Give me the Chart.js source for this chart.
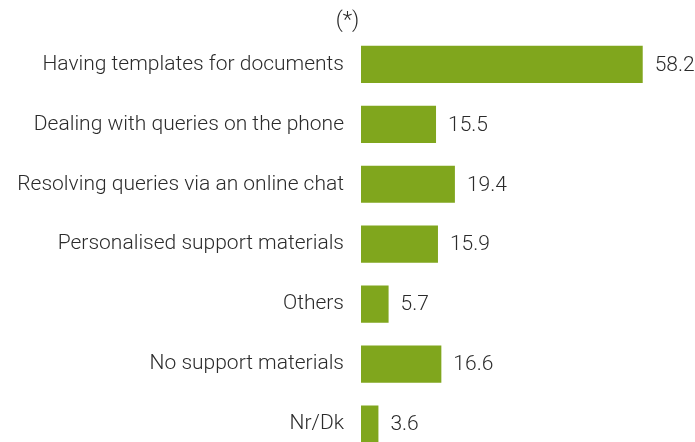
<!DOCTYPE html>
<html>
<head>
<meta charset="utf-8">
<script src="https://cdn.jsdelivr.net/npm/chart.js@4"></script>
<style>
  html, body { margin: 0; padding: 0; background: #fff; overflow: hidden; height: 442px; }
  /* taller than the window: the last row is cut at the bottom, as in the reference */
  #wrap { width: 695px; height: 454px; }
</style>
</head>
<body>
<div id="wrap"><canvas id="chart"></canvas></div>
<script>
// Data
const categories = [
  "Having templates for documents",
  "Dealing with queries on the phone",
  "Resolving queries via an online chat",
  "Personalised support materials",
  "Others",
  "No support materials",
  "Nr/Dk"
];
const values = [58.2, 15.5, 19.4, 15.9, 5.7, 16.6, 3.6];
const titleText = "(*)";

const textColor = "#2b2b2b";
const barColor = "#80a61d";
const fontFamily = "Roboto, 'Noto Sans', sans-serif";

// value labels at the end of each bar
const valueLabels = {
  id: "valueLabels",
  afterDatasetsDraw(chart) {
    const ctx = chart.ctx;
    const meta = chart.getDatasetMeta(0);
    ctx.save();
    ctx.font = "300 21px " + fontFamily;
    ctx.fillStyle = textColor;
    ctx.textAlign = "left";
    ctx.textBaseline = "middle";
    meta.data.forEach((bar, i) => {
      ctx.fillText(values[i].toFixed(1), bar.x + 12, bar.y + 1);
    });
    ctx.restore();
  }
};

new Chart(document.getElementById("chart"), {
  type: "bar",
  data: {
    labels: categories,
    datasets: [{
      data: values,
      backgroundColor: barColor,
      barPercentage: 0.62,
      categoryPercentage: 1
    }]
  },
  options: {
    indexAxis: "y",
    responsive: true,
    maintainAspectRatio: false,
    animation: false,
    layout: { padding: 0 },
    plugins: {
      legend: { display: false },
      tooltip: { enabled: false },
      title: {
        display: true,
        text: titleText,
        color: textColor,
        font: { family: fontFamily, size: 22, weight: "300" },
        padding: { top: 8, bottom: 0 }
      }
    },
    scales: {
      x: {
        display: false,
        min: 0,
        max: 69
      },
      y: {
        grid: { display: false, drawTicks: false },
        border: { display: false },
        ticks: {
          color: textColor,
          padding: 17,
          font: { family: fontFamily, size: 21, weight: "300" }
        },
        afterFit(scale) {
          scale.width = 361;
          scale.paddingTop = 0;
          scale.paddingBottom = 0;
        }
      }
    }
  },
  plugins: [valueLabels]
});
</script>
</body>
</html>
